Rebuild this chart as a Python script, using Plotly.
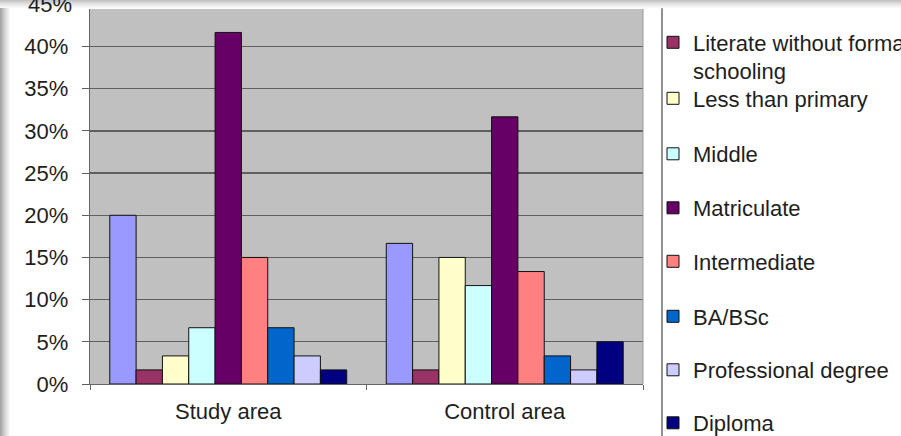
import plotly.graph_objects as go

# ---- data ----
categories = ["Study area", "Control area"]
series_names = [
    "Illiterate",
    "Literate without formal<br>schooling",
    "Less than primary",
    "Middle",
    "Matriculate",
    "Intermediate",
    "BA/BSc",
    "Professional degree",
    "Diploma",
]
study_values = [0.200, 0.0167, 0.0333, 0.0667, 0.4167, 0.150, 0.0667, 0.0333, 0.0167]
control_values = [0.1667, 0.0167, 0.150, 0.1167, 0.3167, 0.1333, 0.0333, 0.0167, 0.050]
colors = ["#9999FF", "#993366", "#FFFFCC", "#CCFFFF", "#660066",
          "#FF8080", "#0066CC", "#CCCCFF", "#000080"]
y_ticks = [0, 0.05, 0.10, 0.15, 0.20, 0.25, 0.30, 0.35, 0.40]

# ---- layout geometry (pixels) ----
W, H = 901, 436
L, R, T, B = 90, 643, 9, 384
YMAX = 0.4445
FONT = "Liberation Sans, Arial, Helvetica, sans-serif"
FS = 22
TXT = "#1e1e1e"


def px_x(x):
    return (x - L) / (R - L)


def px_y(y):
    return (B - y) / (B - T)


# legend text centre rows (pixels)
legend_rows = [None, 57, 98.5, 154, 208, 261.5, 316.5, 370, 423]

fig = go.Figure()
for i, name in enumerate(series_names):
    leg = "legend" if i <= 1 else f"legend{i}"
    fig.add_trace(go.Bar(
        name=name,
        x=categories,
        y=[study_values[i], control_values[i]],
        marker=dict(color=colors[i], line=dict(color="#111111", width=1)),
        showlegend=(i > 0),
        legend=leg,
    ))

legend_common = dict(
    font=dict(family=FONT, size=FS, color=TXT),
    bgcolor="rgba(0,0,0,0)",
    borderwidth=0,
    xanchor="left",
    yanchor="middle",
    x=px_x(653),
    valign="top",
    itemclick=False,
)
legends = {}
for i in range(1, len(series_names)):
    key = "legend" if i == 1 else f"legend{i}"
    legends[key] = dict(legend_common, y=px_y(legend_rows[i]))

shapes = [
    # legend box left border
    dict(type="line", xref="paper", yref="paper", x0=px_x(662), x1=px_x(662),
         y0=px_y(0), y1=px_y(H), line=dict(color="#6e6e6e", width=1.5), layer="above"),
    # plot area right border
    dict(type="line", xref="paper", yref="paper", x0=1, x1=1, y0=0, y1=1,
         line=dict(color="#9a9a9a", width=1), layer="above"),
]
# soft shadow along top and left edges of the screenshot
top_greys = ["#c4c4c4", "#cdcdcd", "#d6d6d6", "#dedede", "#e6e6e6", "#ededed", "#f3f3f3", "#f8f8f8"]
for k, c in enumerate(top_greys):
    shapes.append(dict(type="rect", xref="paper", yref="paper",
                       x0=px_x(0), x1=px_x(W), y0=px_y(k), y1=px_y(k + 1.2),
                       fillcolor=c, line=dict(width=0), layer="above"))
left_greys = ["#a4a4a4", "#b0b0b0", "#bbbbbb", "#c6c6c6", "#d0d0d0", "#d9d9d9", "#e2e2e2", "#eaeaea", "#f1f1f1", "#f8f8f8"]
for k, c in enumerate(left_greys):
    shapes.append(dict(type="rect", xref="paper", yref="paper",
                       x0=px_x(k), x1=px_x(k + 1.2), y0=px_y(8), y1=px_y(H),
                       fillcolor=c, line=dict(width=0), layer="above"))

fig.update_layout(
    width=W, height=H,
    margin=dict(l=L, r=W - R, t=T, b=H - B, pad=0, autoexpand=False),
    paper_bgcolor="white",
    plot_bgcolor="#C0C0C0",
    barmode="group",
    bargap=0.143,
    bargroupgap=0,
    font=dict(family=FONT, size=FS, color=TXT),
    shapes=shapes,
    annotations=[dict(
        text="45%", xref="paper", yref="paper", x=0, y=0.45 / YMAX,
        xanchor="right", yanchor="middle", xshift=-16, showarrow=False,
        font=dict(family=FONT, size=FS, color=TXT),
    )],
    **legends,
)
fig.update_xaxes(
    showgrid=False, showline=True, linecolor="#666666", linewidth=1,
    ticks="outside", tickson="boundaries", ticklen=5, tickcolor="#666666",
    ticklabelstandoff=8, zeroline=False,
)
fig.update_yaxes(
    range=[0, YMAX], tickvals=y_ticks, tickformat=".0%",
    showgrid=True, gridcolor="#5f5f5f", gridwidth=1.2,
    showline=True, linecolor="#666666", linewidth=1.2,
    ticks="outside", ticklen=7, tickcolor="#5f5f5f",
    ticklabelstandoff=9, zeroline=False,
)

fig.write_html(
    "out.html",
    config={"displayModeBar": False, "staticPlot": True},
    post_script="document.body.style.margin='0';document.body.style.overflow='hidden';",
)
